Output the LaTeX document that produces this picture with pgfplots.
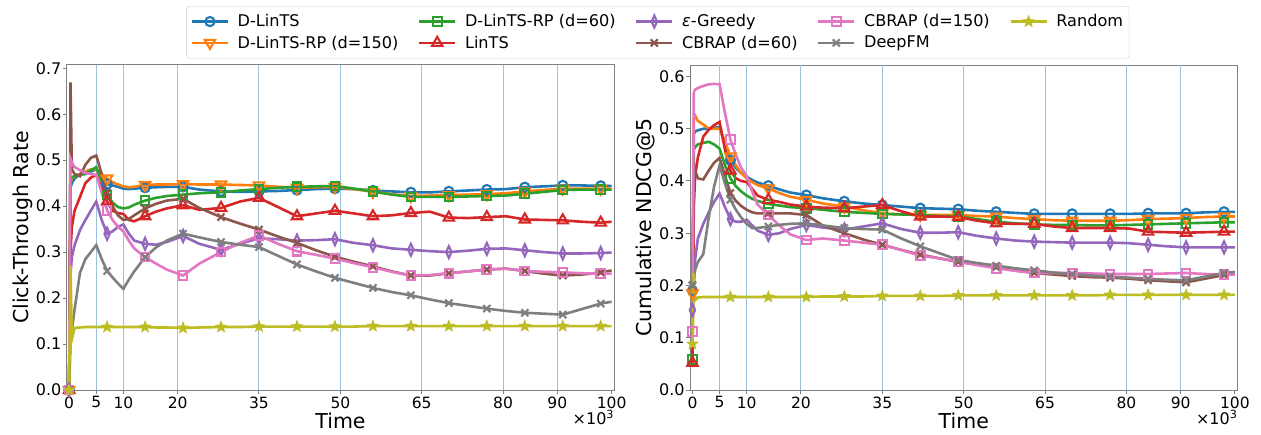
\documentclass[border=0pt]{standalone}
\usepackage{fontspec}
\setmainfont{DejaVu Sans}
\usepackage{pgfplots}
\pgfplotsset{compat=1.18}
\usepackage{pgfplotstable}
\usetikzlibrary{plotmarks}

\definecolor{c1}{HTML}{1F77B4}
\definecolor{c2}{HTML}{FF7F0E}
\definecolor{c3}{HTML}{2CA02C}
\definecolor{c4}{HTML}{D62728}
\definecolor{c5}{HTML}{9467BD}
\definecolor{c6}{HTML}{8C564B}
\definecolor{c7}{HTML}{E377C2}
\definecolor{c8}{HTML}{7F7F7F}
\definecolor{c9}{HTML}{BCBD22}

\pgfdeclareplotmark{fstar}{%
  \pgfpathmoveto{\pgfpointpolar{90}{\pgfplotmarksize}}%
  \pgfpathlineto{\pgfpointpolar{126}{0.42\pgfplotmarksize}}%
  \pgfpathlineto{\pgfpointpolar{162}{\pgfplotmarksize}}%
  \pgfpathlineto{\pgfpointpolar{198}{0.42\pgfplotmarksize}}%
  \pgfpathlineto{\pgfpointpolar{234}{\pgfplotmarksize}}%
  \pgfpathlineto{\pgfpointpolar{270}{0.42\pgfplotmarksize}}%
  \pgfpathlineto{\pgfpointpolar{306}{\pgfplotmarksize}}%
  \pgfpathlineto{\pgfpointpolar{342}{0.42\pgfplotmarksize}}%
  \pgfpathlineto{\pgfpointpolar{18}{\pgfplotmarksize}}%
  \pgfpathlineto{\pgfpointpolar{54}{0.42\pgfplotmarksize}}%
  \pgfpathclose
  \pgfusepathqfillstroke}

\tikzset{
  base/.style={line width=2.6bp, mark options={solid, line width=2.1bp}},
  sA/.style={base, color=c1, mark=o, mark size=4.6bp},
  sB/.style={base, color=c2, mark=triangle, mark size=6bp, mark options={solid, line width=2.1bp, rotate=180}},
  sC/.style={base, color=c3, mark=square, mark size=4.3bp},
  sD/.style={base, color=c4, mark=triangle, mark size=6bp},
  sE/.style={base, color=c5, mark=diamond, mark size=6bp, mark options={solid, line width=2.1bp, xscale=0.6}},
  sF/.style={base, color=c6, mark=x, mark size=5bp},
  sG/.style={base, color=c7, mark=square, mark size=4.3bp},
  sH/.style={base, color=c8, mark=x, mark size=5bp},
  sI/.style={base, color=c9, mark=fstar, mark size=5.5bp, mark options={solid, line width=1bp, fill=c9}},
  mi/.style={mark indices={1,10,16,19,21,23,25,27,29,31,33,35,37,39,41}},
}

\pgfplotstableread{
x A B C D E F G H I
0 0 0 0 0 0 0 0 0 0
0.25 0.44 0.45 0.455 0.30 0.25 0.669 0.503 0.10 0.27
0.5 0.45 0.46 0.463 0.355 0.29 0.48 0.495 0.13 0.11
1 0.46 0.465 0.465 0.39 0.315 0.47 0.485 0.175 0.135
2 0.47 0.47 0.468 0.42 0.348 0.465 0.478 0.255 0.136
3 0.47 0.475 0.47 0.45 0.37 0.49 0.472 0.285 0.137
4 0.475 0.48 0.478 0.462 0.39 0.505 0.47 0.30 0.137
5 0.48 0.48 0.485 0.468 0.41 0.51 0.468 0.315 0.137
6 0.465 0.47 0.455 0.44 0.37 0.47 0.43 0.285 0.137
7 0.448 0.46 0.424 0.41 0.34 0.43 0.391 0.259 0.137
8 0.445 0.452 0.408 0.39 0.345 0.40 0.37 0.245 0.137
9 0.442 0.447 0.398 0.385 0.355 0.38 0.355 0.232 0.137
10 0.438 0.443 0.395 0.383 0.36 0.37 0.345 0.22 0.137
11 0.437 0.441 0.397 0.37 0.34 0.372 0.325 0.24 0.137
12 0.438 0.442 0.403 0.367 0.325 0.38 0.308 0.258 0.137
14 0.44 0.446 0.412 0.378 0.318 0.395 0.289 0.289 0.137
16 0.441 0.447 0.418 0.388 0.316 0.405 0.275 0.31 0.136
18 0.442 0.447 0.422 0.395 0.322 0.412 0.262 0.325 0.136
21 0.442 0.448 0.425 0.402 0.335 0.416 0.249 0.34 0.135
24 0.436 0.447 0.428 0.392 0.318 0.396 0.275 0.332 0.136
28 0.432 0.447 0.43 0.396 0.305 0.376 0.30 0.322 0.137
31.5 0.431 0.446 0.434 0.41 0.318 0.362 0.32 0.316 0.137
35 0.432 0.445 0.437 0.418 0.33 0.349 0.336 0.311 0.138
38.5 0.433 0.442 0.44 0.398 0.328 0.334 0.318 0.292 0.138
42 0.435 0.44 0.442 0.378 0.325 0.32 0.302 0.273 0.138
45.5 0.437 0.441 0.443 0.384 0.326 0.304 0.294 0.258 0.138
49 0.438 0.442 0.444 0.39 0.328 0.29 0.286 0.244 0.138
52.5 0.437 0.437 0.438 0.384 0.32 0.279 0.276 0.233 0.138
56 0.434 0.431 0.432 0.378 0.315 0.269 0.267 0.222 0.139
59.5 0.432 0.426 0.425 0.38 0.308 0.258 0.257 0.213 0.139
63 0.43 0.422 0.42 0.385 0.305 0.249 0.249 0.206 0.139
66.5 0.43 0.423 0.42 0.388 0.302 0.249 0.25 0.197 0.139
70 0.432 0.424 0.42 0.375 0.30 0.254 0.254 0.189 0.139
73.5 0.434 0.425 0.421 0.374 0.303 0.258 0.258 0.183 0.139
77 0.436 0.426 0.422 0.376 0.307 0.262 0.262 0.177 0.139
80.5 0.437 0.428 0.423 0.378 0.308 0.264 0.264 0.172 0.139
84 0.441 0.432 0.427 0.371 0.304 0.259 0.259 0.168 0.139
87.5 0.443 0.435 0.431 0.37 0.30 0.253 0.257 0.166 0.139
91 0.445 0.438 0.435 0.369 0.297 0.249 0.256 0.164 0.139
94.5 0.445 0.438 0.436 0.366 0.297 0.251 0.254 0.176 0.139
98 0.444 0.438 0.436 0.364 0.298 0.256 0.253 0.188 0.139
100 0.444 0.438 0.436 0.366 0.299 0.26 0.253 0.192 0.139
}\ctr

\pgfplotstableread{
x A B C D E F G H I
0 0.19 0.185 0.058 0.052 0.153 0.20 0.112 0.201 0.088
0.25 0.49 0.52 0.46 0.35 0.20 0.435 0.57 0.21 0.224
0.5 0.495 0.525 0.465 0.41 0.25 0.42 0.575 0.23 0.172
1 0.497 0.515 0.47 0.445 0.29 0.405 0.578 0.245 0.177
2 0.50 0.508 0.473 0.485 0.318 0.403 0.582 0.26 0.178
3 0.50 0.50 0.475 0.498 0.34 0.42 0.585 0.33 0.178
4 0.502 0.50 0.47 0.507 0.36 0.435 0.586 0.39 0.178
5 0.503 0.50 0.462 0.513 0.376 0.444 0.585 0.43 0.178
6 0.47 0.475 0.43 0.46 0.35 0.41 0.53 0.395 0.178
7 0.44 0.447 0.405 0.42 0.327 0.377 0.479 0.364 0.178
8 0.425 0.43 0.39 0.405 0.322 0.362 0.45 0.345 0.178
9 0.415 0.415 0.38 0.40 0.322 0.352 0.425 0.33 0.178
10 0.408 0.405 0.372 0.398 0.326 0.345 0.41 0.318 0.178
11 0.402 0.398 0.366 0.385 0.315 0.34 0.38 0.31 0.178
12 0.397 0.392 0.362 0.372 0.305 0.338 0.355 0.31 0.178
14 0.391 0.386 0.356 0.364 0.297 0.338 0.335 0.313 0.178
16 0.384 0.377 0.353 0.36 0.30 0.338 0.315 0.316 0.178
18 0.378 0.37 0.35 0.355 0.308 0.338 0.298 0.318 0.178
21 0.373 0.364 0.348 0.351 0.316 0.335 0.287 0.319 0.178
24 0.367 0.357 0.345 0.349 0.311 0.315 0.29 0.315 0.179
28 0.361 0.351 0.341 0.348 0.307 0.30 0.286 0.31 0.179
31.5 0.357 0.344 0.339 0.351 0.313 0.288 0.282 0.308 0.179
35 0.354 0.338 0.337 0.354 0.319 0.278 0.278 0.307 0.180
38.5 0.351 0.336 0.336 0.342 0.308 0.268 0.268 0.29 0.180
42 0.348 0.335 0.335 0.332 0.301 0.259 0.257 0.275 0.180
45.5 0.347 0.335 0.333 0.332 0.301 0.252 0.252 0.262 0.180
49 0.346 0.335 0.332 0.331 0.302 0.245 0.246 0.249 0.181
52.5 0.343 0.333 0.327 0.324 0.295 0.24 0.239 0.243 0.181
56 0.341 0.332 0.322 0.319 0.29 0.235 0.233 0.238 0.181
59.5 0.339 0.329 0.319 0.318 0.286 0.229 0.228 0.233 0.181
63 0.337 0.327 0.317 0.318 0.284 0.224 0.224 0.229 0.181
66.5 0.337 0.325 0.316 0.313 0.283 0.221 0.224 0.225 0.181
70 0.337 0.324 0.316 0.31 0.282 0.218 0.224 0.222 0.181
73.5 0.337 0.324 0.315 0.31 0.282 0.216 0.223 0.219 0.181
77 0.337 0.324 0.315 0.31 0.282 0.215 0.222 0.217 0.182
80.5 0.337 0.325 0.316 0.309 0.281 0.213 0.222 0.215 0.182
84 0.338 0.327 0.317 0.303 0.278 0.21 0.222 0.213 0.182
87.5 0.338 0.328 0.318 0.302 0.275 0.208 0.223 0.211 0.182
91 0.338 0.329 0.319 0.301 0.273 0.206 0.224 0.21 0.182
94.5 0.34 0.331 0.32 0.302 0.273 0.213 0.222 0.217 0.182
98 0.341 0.332 0.321 0.303 0.273 0.22 0.221 0.224 0.182
100 0.341 0.332 0.321 0.303 0.273 0.222 0.221 0.226 0.182
}\ndcg

\pgfplotsset{
  common/.style={
    scale only axis, width=547.6bp, height=325bp,
    xmin=-0.45, xmax=100.5, ymin=0,
    clip=false,
    xtick={0,5,10,20,35,50,65,80,90,100},
    extra x ticks={5,10,20,35,50,65,80,90},
    extra x tick labels={},
    extra x tick style={grid=major, major tick length=0pt, xticklabel={}},
    major grid style={c1!45, line width=1bp},
    tick align=outside, tick pos=left,
    major tick length=4bp,
    axis line style={black!50, line width=1bp},
    every tick/.style={black!50, line width=1bp},
    /pgf/number format/assume math mode=true,
    xticklabel style={font=\fontsize{15.5bp}{18bp}\selectfont, inner sep=2.5bp},
    yticklabel style={font=\fontsize{16bp}{18bp}\selectfont, inner sep=1.2bp,
      /pgf/number format/.cd, fixed, fixed zerofill, precision=1},
    every axis x label/.style={at={(rel axis cs:0.5,0)}, anchor=base, yshift=-38.5bp,
      font=\fontsize{20.5bp}{24bp}\selectfont},
    every axis y label/.style={at={(rel axis cs:0,0.5)}, anchor=base, rotate=90, yshift=38.5bp,
      font=\fontsize{20.5bp}{24bp}\selectfont},
    xlabel={Time},
  },
}

\newcommand{\allplots}[1]{%
  \addplot[sA, mi, forget plot] table[x=x, y=A] {#1};
  \addplot[sB, mi, forget plot] table[x=x, y=B] {#1};
  \addplot[sC, mi, forget plot] table[x=x, y=C] {#1};
  \addplot[sD, mi, forget plot] table[x=x, y=D] {#1};
  \addplot[sE, mi, forget plot] table[x=x, y=E] {#1};
  \addplot[sF, mi, forget plot] table[x=x, y=F] {#1};
  \addplot[sG, mi, forget plot] table[x=x, y=G] {#1};
  \addplot[sH, mi, forget plot] table[x=x, y=H] {#1};
  \addplot[sI, mi, forget plot] table[x=x, y=I] {#1};
}

\begin{document}
\begin{tikzpicture}
\path[use as bounding box] (0bp,0bp) rectangle (1261bp,435bp);

\begin{axis}[common, at={(66.7bp,45bp)}, anchor=south west,
  ymax=0.707, ytick={0,0.1,0.2,0.3,0.4,0.5,0.6,0.7},
  ylabel={Click-Through Rate},
  legend columns=5,
  legend cell align=left,
  legend image code/.code={\draw[mark repeat=2, mark phase=2, #1] plot coordinates {(0bp,0bp) (18bp,0bp) (36bp,0bp)};},
  legend style={at={(1.0795,1.1815)}, anchor=north, draw=black!20, rounded corners=3bp,
    font=\fontsize{16.1bp}{19bp}\selectfont,
    /tikz/every odd column/.append style={column sep=6.5bp},
    /tikz/every even column/.append style={column sep=17.5bp},
    row sep=3.6bp, inner xsep=4bp, inner ysep=6.5bp},
]
\allplots{\ctr}
\addlegendimage{sA}\addlegendentry{D-LinTS}
\addlegendimage{sC}\addlegendentry{D-LinTS-RP (d=60)}
\addlegendimage{sE}\addlegendentry{\textit{ε}-Greedy}
\addlegendimage{sG}\addlegendentry{CBRAP (d=150)}
\addlegendimage{sI}\addlegendentry{Random}
\addlegendimage{sB}\addlegendentry{D-LinTS-RP (d=150)}
\addlegendimage{sD}\addlegendentry{LinTS}
\addlegendimage{sF}\addlegendentry{CBRAP (d=60)}
\addlegendimage{sH}\addlegendentry{DeepFM}
\node[anchor=base east, font=\fontsize{16bp}{19bp}\selectfont, inner sep=0pt] at (rel axis cs:1,0) [yshift=-34.3bp] {×10\textsuperscript{3}};
\end{axis}

\begin{axis}[common, at={(690bp,45bp)}, anchor=south west,
  ymax=0.622, ytick={0,0.1,0.2,0.3,0.4,0.5,0.6},
  ylabel={Cumulative NDCG@5},
]
\allplots{\ndcg}
\node[anchor=base east, font=\fontsize{16bp}{19bp}\selectfont, inner sep=0pt] at (rel axis cs:1,0) [yshift=-34.3bp] {×10\textsuperscript{3}};
\end{axis}
\end{tikzpicture}
\end{document}
